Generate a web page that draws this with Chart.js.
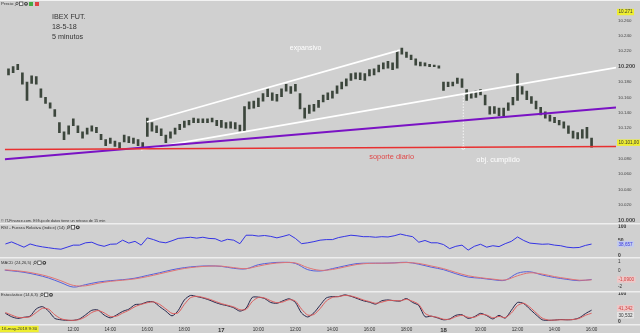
<!DOCTYPE html>
<html lang="es">
<head>
<meta charset="UTF-8">
<title>IBEX FUT. 5 minutos</title>
<script src="https://cdn.jsdelivr.net/npm/chart.js"></script>
<style>
  html, body { margin: 0; padding: 0; background: #d0d0d0; }
  #grafico { display: block; }
</style>
</head>
<body>
<canvas id="grafico" width="640" height="333"></canvas>
<script>
// ---- datos ----
// velas de 15 minutos desde el 16 a las 08:30 (sesión 08:00-20:00)
const inicioVelas = '16 08:30';
const maximos = [
  10197,10200,10203,10192,10180,10188,10187,10171,10160,10153,
  10144,10127,10115,10123,10132,10123,10115,10120,10123,10121,
  10112,10105,10107,10103,10101,10111,10109,10107,10105,10101,
  10133,10127,10123,10119,10111,10115,10120,10125,10129,10130,
  10133,10132,10132,10132,10133,10130,10130,10127,10128,10127,
  10124,10148,10154,10155,10159,10165,10171,10166,10164,10171,
  10177,10174,10177,10165,10146,10150,10151,10156,10163,10166,
  10168,10175,10180,10184,10191,10192,10192,10191,10196,10197,
  10202,10205,10207,10205,10221,10224,10219,10215,10210,10206,
  10205,10203,10202,10201,10180,10180,10180,10185,10184,10170,
  10166,10168,10170,10163,10148,10148,10146,10146,10153,10160,
  10191,10174,10168,10161,10155,10147,10141,10137,10134,10130,
  10128,10123,10116,10114,10118,10121,10107
];
const minimos = [
  10189,10192,10196,10177,10156,10178,10177,10160,10152,10146,
  10135,10114,10105,10112,10123,10114,10107,10112,10116,10114,
  10105,10097,10100,10096,10092,10102,10101,10100,10097,10092,
  10109,10116,10114,10110,10101,10107,10112,10118,10121,10124,
  10127,10127,10127,10127,10128,10123,10121,10120,10120,10119,
  10116,10116,10145,10146,10148,10155,10161,10156,10155,10161,
  10168,10165,10168,10145,10133,10139,10142,10147,10154,10157,
  10159,10165,10171,10175,10182,10184,10183,10182,10188,10189,
  10193,10197,10198,10196,10198,10216,10212,10209,10202,10201,
  10201,10200,10200,10198,10169,10174,10175,10178,10173,10156,
  10159,10160,10163,10150,10138,10139,10136,10136,10143,10150,
  10156,10164,10157,10152,10145,10137,10133,10129,10127,10124,
  10120,10113,10107,10106,10107,10107,10095
];

// RSI (14), cada 20 minutos desde las 08:20
const inicioRsi = '16 08:20';
const rsi = [
  39,46,37,28,39,33,29,26,23,21, 28,35,35,43,45,36,31,38,39,52,
  42,48,35,60,54,46,43,50,58,60, 62,59,62,58,57,48,55,52,40,69,
  69,66,68,65,60,65,71,58,40,43, 47,52,54,54,61,65,69,67,64,64,
  62,64,63,67,73,68,64,45,51,43, 43,37,23,31,35,18,31,38,28,33,
  30,40,48,63,51,42,40,38,39,35, 33,28,26,27,34,38.657
];

// MACD (24,26,5), cada 40 minutos desde las 08:00
const inicioMacd = '16 08:00';
const macd = [
  0.06,-0.06,-0.24,-0.53,-0.92,-1.47,-2.00,-1.71,-1.41,-1.24,
  -1.12,-0.94,-0.61,-0.29,0.06,0.32,0.47,0.53,0.47,0.24,
  0.18,0.67,0.88,0.96,0.82,0.08,-0.08,0.20,0.53,0.81,
  0.85,0.85,0.89,0.96,0.73,0.38,0.08,-0.41,-0.81,-0.94,
  -1.12,-1.18,-0.35,-0.18,-0.56,-0.86,-1.08,-1.24,-1.09
];
const senal = [
  0.10,0.00,-0.15,-0.40,-0.75,-1.25,-1.80,-1.85,-1.55,-1.32,
  -1.18,-1.02,-0.75,-0.42,-0.08,0.22,0.40,0.50,0.50,0.32,
  0.20,0.50,0.78,0.92,0.88,0.32,0.00,0.10,0.40,0.70,
  0.83,0.85,0.87,0.93,0.82,0.52,0.20,-0.25,-0.65,-0.88,
  -1.05,-1.15,-0.65,-0.30,-0.45,-0.75,-0.98,-1.18,-1.14
];

// Estocástico (14,6,3), cada 20 minutos desde las 08:20
const inicioEst = '16 08:20';
const estK = [
  30,18,12,16,20,46,54,38,12,7, 5,5,10,25,41,42,24,14,24,37,
  45,61,63,71,71,54,38,21,40,78, 94,90,85,78,69,62,57,50,38,48,
  87,88,83,69,66,75,82,69,31,17, 32,59,85,90,90,96,91,83,75,70,
  63,75,78,75,74,83,69,58,18,20, 14,7,10,23,25,12,18,30,22,10,
  23,13,41,69,65,45,25,7,5,6, 8,7,8,14,29,41.342
];
const estD = [
  33,24,16,15,18,33,48,45,25,11, 6,5,8,18,33,40,32,19,20,31,
  41,54,62,68,71,62,46,30,32,62, 86,91,87,81,73,65,59,53,43,44,
  72,87,85,75,68,71,79,74,45,24, 26,47,74,87,90,94,92,86,78,72,
  66,70,76,76,75,80,73,62,30,20, 16,9,9,18,23,16,16,26,24,14,
  19,15,31,58,66,52,32,13,6,6, 7,7,8,12,23,30.532
];

// líneas dibujadas sobre el precio (hora de sesión, precio)
const soporteDiario = [[0.3, 10092], [33.32, 10096]];
const directriz = [[0.3, 10079.5], [33.32, 10146.7]];
const canalInferior = [[7.65, 10092], [33.32, 10198.7]];
const canalSuperior = [[7.97, 10127.8], [21.64, 10221.4]];
const objetivo = [[25.07, 10163.7], [25.07, 10094.5]];

// ejes
const horasEje = [4, 6, 8, 10, 12, 14, 16, 18, 20, 22, 24, 26, 28, 30, 32];
const preciosEje = [10000, 10020, 10040, 10060, 10080, 10100, 10120, 10140, 10160, 10180, 10200, 10220, 10240, 10260];
const ultimoPrecio = 10101;
const maximoVisible = 10271;

const FUENTE = '"Liberation Sans", Arial, sans-serif';

// hora de sesión: horas seguidas contando 08:00-20:00 de cada día desde el 16
function horaSesion(txt) {
  const [dia, hm] = txt.split(' ');
  const [h, m] = hm.split(':').map(Number);
  return (Number(dia) - 16) * 12 + (h - 8) + m / 60;
}
function serie(inicio, pasoMin, valores) {
  const h0 = horaSesion(inicio);
  return valores.map((v, i) => ({ x: h0 + i * pasoMin / 60, y: v }));
}
function tramo(puntos) {
  return puntos.map(p => ({ x: p[0], y: p[1] }));
}
function etiquetaHora(v) {
  const h = Math.round(v);
  if (h % 12 === 0) return String(16 + h / 12);
  return (8 + h % 12) + ':00';
}
function formatoPrecio(v) {
  return Math.floor(v / 1000) + '.' + String(v % 1000).padStart(3, '0');
}
function coma(v, dec) {
  return v.toFixed(dec).replace('.', ',');
}

const h0Velas = horaSesion(inicioVelas);
const velas = maximos.map((hi, i) => ({ x: h0Velas + i * 0.25, y: [minimos[i], hi] }));

function lineaTrazo(datos, color, ancho, extra) {
  return Object.assign({
    type: 'line', data: tramo(datos), yAxisID: 'y', borderColor: color,
    borderWidth: ancho, pointRadius: 0, order: 1
  }, extra || {});
}

function ejeDerecho(extra) {
  return Object.assign({
    position: 'right', stack: 'paneles',
    grid: { display: false, drawTicks: false },
    border: { display: false },
    afterFit: s => { s.width = 24; s.paddingTop = 0; s.paddingBottom = 0; },
  }, extra);
}

function iconos(ctx, x, y) {
  ctx.save();
  ctx.strokeStyle = '#3a3a3a';
  ctx.fillStyle = '#3a3a3a';
  ctx.lineWidth = 0.7;
  ctx.beginPath();
  ctx.arc(x + 2, y - 0.6, 1.2, 0, Math.PI * 2);
  ctx.moveTo(x + 1.1, y + 0.4);
  ctx.lineTo(x, y + 1.8);
  ctx.stroke();
  ctx.fillStyle = '#f4f4f4';
  ctx.fillRect(x + 4.5, y - 2, 3.4, 3.6);
  ctx.strokeRect(x + 4.5, y - 2, 3.4, 3.6);
  ctx.fillStyle = '#3a3a3a';
  ctx.beginPath();
  ctx.arc(x + 11, y - 0.2, 1.9, 0, Math.PI * 2);
  ctx.fill();
  ctx.fillStyle = '#e8e8e8';
  ctx.beginPath();
  ctx.arc(x + 11, y - 0.2, 0.8, 0, Math.PI * 2);
  ctx.fill();
  ctx.restore();
}

function caja(ctx, x, y, texto, fondo, tinta, tam) {
  ctx.font = (tam || 4.6) + 'px ' + FUENTE;
  const w = ctx.measureText(texto).width + 3;
  ctx.fillStyle = fondo;
  ctx.fillRect(x, y - 3.2, w, 6.4);
  ctx.fillStyle = tinta;
  ctx.textAlign = 'left';
  ctx.textBaseline = 'middle';
  ctx.fillText(texto, x + 1.5, y + 0.2);
}

const decorado = {
  id: 'decorado',
  beforeDraw(chart) {
    const ctx = chart.ctx;
    ctx.save();
    ctx.fillStyle = '#d0d0d0';
    ctx.fillRect(0, 0, chart.width, chart.height);
    ctx.fillStyle = '#f2f2f2';
    ctx.fillRect(0, 0, chart.width, 1);
    ctx.restore();
  },
  beforeDatasetsDraw(chart) {
    const ctx = chart.ctx;
    const s = chart.scales;
    ctx.save();
    // separadores de paneles
    ctx.fillStyle = '#eeeeee';
    [s.y.bottom, s.rsi.bottom, s.macd.bottom, s.est.bottom].forEach(yy => {
      ctx.fillRect(0, Math.round(yy) - 1, chart.width, 1.5);
    });
    ctx.restore();
  },
  afterDatasetsDraw(chart) {
    const ctx = chart.ctx;
    const s = chart.scales;
    const px = v => s.x.getPixelForValue(v);
    const py = v => s.y.getPixelForValue(v);
    ctx.save();

    // cabecera del panel de precio
    ctx.fillStyle = '#333';
    ctx.textAlign = 'left';
    ctx.textBaseline = 'middle';
    ctx.font = '4.4px ' + FUENTE;
    ctx.fillText('Precio', 1, 4);
    iconos(ctx, 15, 4);
    ctx.fillStyle = '#4a4';
    ctx.fillRect(29, 2, 4, 4);
    ctx.fillStyle = '#d44';
    ctx.fillRect(35, 2, 4, 4);

    ctx.fillStyle = '#333';
    ctx.font = '7.2px ' + FUENTE;
    ctx.fillText('IBEX FUT.', 52, 17);
    ctx.fillText('18-5-18', 52, 27);
    ctx.fillText('5 minutos', 52, 37);

    // textos sobre el gráfico
    ctx.textAlign = 'center';
    ctx.font = '7px ' + FUENTE;
    ctx.fillStyle = '#ffffff';
    ctx.fillText('expansivo', px(16.55), py(10224));
    ctx.font = '7.4px ' + FUENTE;
    ctx.fillText('obj. cumplido', px(26.95), py(10078));
    ctx.fillStyle = '#e04848';
    ctx.fillText('soporte diario', px(21.2), py(10083));

    ctx.textAlign = 'left';
    ctx.fillStyle = '#333';
    ctx.font = '3.8px ' + FUENTE;
    ctx.fillText('\u00a9 IT-Finance.com. El flujo de datos tiene un retraso de 15 min', 1, s.y.bottom - 3);

    // títulos de los indicadores
    const titulos = [
      ['RSI - Fuerza Relativa (índice) (14)', s.rsi.top + 4],
      ['MACD (24,26,5)', s.macd.top + 5],
      ['Estocástico (14,6,3)', s.est.top + 3.5]
    ];
    titulos.forEach(t => {
      ctx.fillStyle = '#333';
      ctx.font = '4.2px ' + FUENTE;
      ctx.textAlign = 'left';
      ctx.textBaseline = 'middle';
      ctx.fillText(t[0], 1, t[1]);
      iconos(ctx, ctx.measureText(t[0]).width + 3, t[1]);
    });

    // valores actuales en el eje derecho
    const xe = s.y.left + 1;
    caja(ctx, xe, py(maximoVisible), formatoPrecio(maximoVisible), '#eeee30', '#333');
    caja(ctx, xe, py(ultimoPrecio), formatoPrecio(ultimoPrecio) + ',00', '#eeee30', '#333');
    caja(ctx, xe, s.rsi.getPixelForValue(rsi[rsi.length - 1]), coma(rsi[rsi.length - 1], 3), '#c4ccec', '#3535e0');
    caja(ctx, xe, s.macd.getPixelForValue(macd[macd.length - 1]), coma(macd[macd.length - 1], 4), '#eec8c8', '#d04040');
    caja(ctx, xe, s.est.getPixelForValue(estK[estK.length - 1]) - 2, coma(estK[estK.length - 1], 3), '#eec8c8', '#d04040');
    caja(ctx, xe, s.est.getPixelForValue(estD[estD.length - 1]) + 2, coma(estD[estD.length - 1], 3), '#e4e4e4', '#333');

    // fecha de inicio sobre el eje de tiempo
    caja(ctx, 0, s.x.top + 4, '16-may-2018 9:30', '#eeee30', '#333', 4.4);
    ctx.restore();
  }
};

new Chart(document.getElementById('grafico'), {
  type: 'bar',
  data: {
    datasets: [
      lineaTrazo(soporteDiario, '#e83030', 1.5),
      lineaTrazo(directriz, '#7a12c4', 2),
      lineaTrazo(canalInferior, '#ffffff', 1.6),
      lineaTrazo(canalSuperior, '#ffffff', 1.6),
      lineaTrazo(objetivo, '#ffffff', 0.8, {
        borderDash: [1.5, 1.5],
        pointRadius: [0, 1.6], pointBorderColor: '#ffffff',
        pointBackgroundColor: 'rgba(0,0,0,0)', pointBorderWidth: 0.8
      }),
      {
        type: 'bar', data: velas, yAxisID: 'y', order: 5,
        backgroundColor: '#3c463c', borderWidth: 0, barThickness: 2,
        borderSkipped: false
      },
      {
        type: 'line', data: serie(inicioRsi, 20, rsi), yAxisID: 'rsi',
        borderColor: '#3434e4', borderWidth: 1, pointRadius: 0, tension: 0
      },
      {
        type: 'line', data: serie(inicioMacd, 40, senal), yAxisID: 'macd',
        borderColor: '#e07474', borderWidth: 1, pointRadius: 0, tension: 0.35
      },
      {
        type: 'line', data: serie(inicioMacd, 40, macd), yAxisID: 'macd',
        borderColor: '#5460dc', borderWidth: 1, pointRadius: 0, tension: 0.35
      },
      {
        type: 'line', data: serie(inicioEst, 20, estD), yAxisID: 'est',
        borderColor: '#dc5c5c', borderWidth: 1, pointRadius: 0, tension: 0.25
      },
      {
        type: 'line', data: serie(inicioEst, 20, estK), yAxisID: 'est',
        borderColor: '#26264c', borderWidth: 1, pointRadius: 0, tension: 0.25
      }
    ]
  },
  options: {
    responsive: false,
    animation: false,
    devicePixelRatio: 1,
    layout: { padding: 0 },
    plugins: { legend: { display: false }, tooltip: { enabled: false } },
    scales: {
      x: {
        type: 'linear', min: 0.3, max: 33.32, offset: false,
        grid: { display: false, drawTicks: false },
        border: { display: false },
        afterBuildTicks: s => { s.ticks = horasEje.map(v => ({ value: v })); },
        afterFit: s => { s.height = 8; s.paddingLeft = 0; s.paddingRight = 0; },
        ticks: {
          autoSkip: false, maxRotation: 0, padding: 1.5, color: '#333',
          callback: v => etiquetaHora(v),
          font: c => (c.tick && Math.round(c.tick.value) % 12 === 0)
            ? { family: FUENTE, size: 6, weight: 'bold' }
            : { family: FUENTE, size: 4.6 }
        }
      },
      y: ejeDerecho({
        stackWeight: 222, min: 9995.8, max: 10280.4,
        afterBuildTicks: s => { s.ticks = preciosEje.map(v => ({ value: v })); },
        ticks: {
          padding: 2, color: '#444', autoSkip: false,
          callback: v => formatoPrecio(v),
          font: c => (c.tick && c.tick.value % 200 === 0)
            ? { family: FUENTE, size: 5.6, weight: 'bold' }
            : { family: FUENTE, size: 4.4 }
        }
      }),
      rsi: ejeDerecho({
        stackWeight: 35, min: -9.1, max: 109.1,
        afterBuildTicks: s => { s.ticks = [0, 50, 100].map(v => ({ value: v })); },
        ticks: { padding: 2, color: '#333', autoSkip: false, font: { family: FUENTE, size: 5, weight: 'bold' } }
      }),
      macd: ejeDerecho({
        stackWeight: 34, min: -2.53, max: 1.47,
        afterBuildTicks: s => { s.ticks = [1, 0, -1, -2].map(v => ({ value: v })); },
        ticks: { padding: 2, color: '#333', autoSkip: false, font: { family: FUENTE, size: 4.6 } }
      }),
      est: ejeDerecho({
        stackWeight: 34, min: -11.6, max: 108.1,
        afterBuildTicks: s => { s.ticks = [0, 100].map(v => ({ value: v })); },
        ticks: { padding: 2, color: '#333', autoSkip: false, font: { family: FUENTE, size: 5, weight: 'bold' } }
      })
    }
  },
  plugins: [decorado]
});
</script>
</body>
</html>
